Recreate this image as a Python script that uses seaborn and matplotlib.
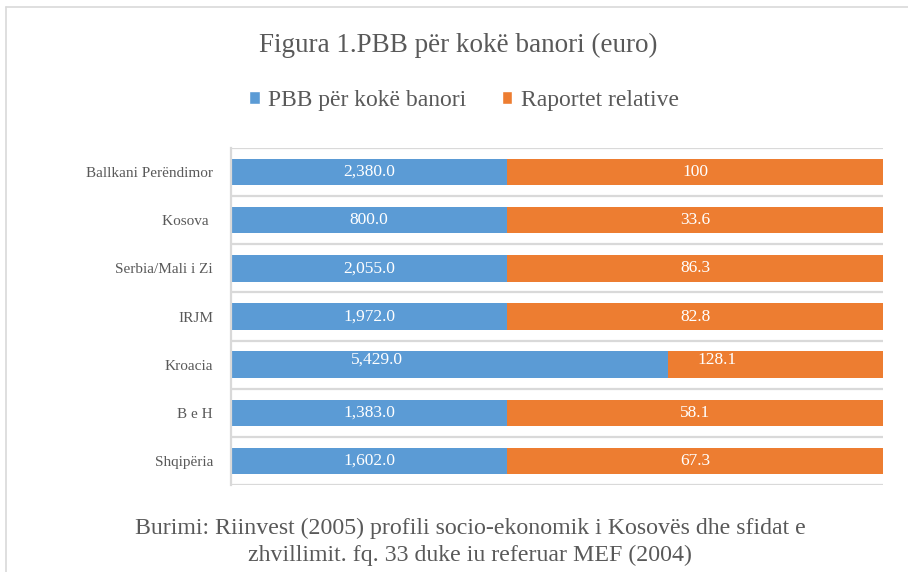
"""
Horizontal stacked bars: PBB per capita and relative ratio (Excel style).
"""

import matplotlib.pyplot as plt
import numpy as np
import pandas as pd
import seaborn as sns
from matplotlib.lines import Line2D
from matplotlib.patches import Patch

# data
countries = ["Ballkani Perëndimor", "Kosova ", "Serbia/Mali i Zi", "IRJM", "Kroacia", "B e H", "Shqipëria"]
pbb = [2380.0, 800.0, 2055.0, 1972.0, 5429.0, 1383.0, 1602.0]
raport = [100, 33.6, 86.3, 82.8, 128.1, 58.1, 67.3]
# blue segment length as drawn in the chart (share of the full bar, %)
blue_share = [42.4, 42.4, 42.4, 42.4, 67.1, 42.4, 42.4]
full_bar = [100, 100, 100, 100, 100, 100, 100]

blue = "#5B9BD5"
orange = "#ED7D31"
grey_txt = "#595959"
grid_col = "#D9D9D9"

sns.set_style("white")
plt.rcParams["font.family"] = "serif"
plt.rcParams["font.serif"] = ["Liberation Serif"]

df = pd.DataFrame({"land": countries, "blue": blue_share, "full": full_bar})

fig = plt.figure(figsize=(9.08, 5.72), dpi=100)
ax = fig.add_axes([0.2544, 0.152, 0.718, 0.5893])

sns.barplot(data=df, x="full", y="land", orient="h", color=orange, width=0.55,
            saturation=1, ax=ax, edgecolor="none")
sns.barplot(data=df, x="blue", y="land", orient="h", color=blue, width=0.55,
            saturation=1, ax=ax, edgecolor="none")

# data labels (Kroacia labels were moved by hand in the original)
for i, (b, v, r) in enumerate(zip(blue_share, pbb, raport)):
    xb, xo, dy = b / 2, b + (100 - b) / 2, 0.0
    if countries[i] == "Kroacia":
        xb, xo, dy = 22.4, 74.5, -0.1
    ax.text(xb, i + dy, f"{v:,.1f}", ha="center", va="center", color="white", fontsize=12.5)
    ax.text(xo, i + dy, f"{r:g}", ha="center", va="center", color="white", fontsize=12.5)

ax.set_xlim(0, 100)
ax.set_ylim(6.5, -0.5)
ax.set_xticks([])
ax.set(xlabel=None, ylabel=None)
ax.set_yticks(np.arange(-0.5, 7, 1), minor=True)
ax.grid(which="minor", axis="y", color=grid_col, linewidth=1.6)
ax.tick_params(axis="y", which="both", length=0, pad=13, labelsize=11, labelcolor=grey_txt)
for s in ["top", "right", "bottom"]:
    ax.spines[s].set_visible(False)
ax.spines["left"].set_color(grid_col)
ax.spines["left"].set_linewidth(1.6)
ax.set_axisbelow(True)

fig.text(0.5044, 0.92, "Figura 1.PBB për kokë banori (euro)", ha="center", va="center",
         fontsize=19.5, color=grey_txt)

handles = [Patch(facecolor=blue, label="PBB për kokë banori"),
           Patch(facecolor=orange, label="Raportet relative")]
fig.legend(handles=handles, loc="center", bbox_to_anchor=(0.511, 0.825), ncol=2,
           frameon=False, fontsize=17, handlelength=0.45, handleheight=0.45,
           handletextpad=0.35, columnspacing=1.5, labelcolor=grey_txt)

fig.text(0.5176, 0.0524,
         "Burimi: Riinvest (2005) profili socio-ekonomik i Kosovës dhe sfidat e\n"
         "zhvillimit. fq. 33 duke iu referuar MEF (2004)",
         ha="center", va="center", fontsize=17.2, color=grey_txt, linespacing=1.35)

# chart frame
fig.add_artist(Line2D([0.0066, 1.0], [0.9869, 0.9869], color=grid_col, linewidth=1.2))
fig.add_artist(Line2D([0.0066, 0.0066], [0.0, 0.9869], color=grid_col, linewidth=1.2))

plt.savefig("out.png", dpi=100)
